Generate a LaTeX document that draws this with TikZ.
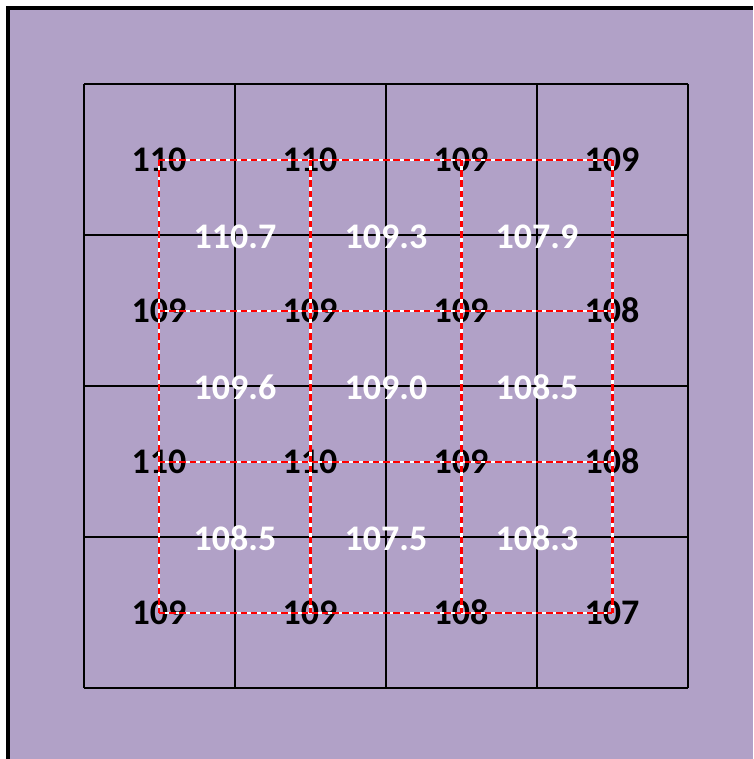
\documentclass[tikz,border=0pt]{standalone}
\usepackage{fontspec}
\setmainfont{Carlito}
\usetikzlibrary{positioning}
\definecolor{bgpurple}{RGB}{177,161,199}

\begin{document}
\begin{tikzpicture}[
    x=0.02cm, y=-0.02cm,
    cell/.style={font=\bfseries\fontsize{20.5}{24}\selectfont, text=black, inner sep=0pt, text height=13pt, text depth=0pt},
    avg/.style={font=\bfseries\fontsize{20.5}{24}\selectfont, text=white, inner sep=0pt, text height=13pt, text depth=0pt},
    gridline/.style={draw=black, line width=1.3pt},
    link/.style={draw=red, line width=1.7pt, dash pattern=on 3.6pt off 2.2pt, preaction={draw=white, solid, line width=1.7pt}}
]
\useasboundingbox (0,0) rectangle (753,759);
\fill[bgpurple] (8,8) rectangle (753,759);
\draw[line width=2pt] (8,759) -- (8,8) -- (753,8);

% 4x4 grid
\foreach \k in {84,235,386,537,688} {
  \draw[gridline] (\k,84) -- (\k,688);
  \draw[gridline] (84,\k) -- (688,\k);
}

% cell values
\node[cell] (c11) at (159,160) {110};
\node[cell] (c12) at (310,160) {110};
\node[cell] (c13) at (461,160) {109};
\node[cell] (c14) at (612,160) {109};
\node[cell] (c21) at (159,311) {109};
\node[cell] (c22) at (310,311) {109};
\node[cell] (c23) at (461,311) {109};
\node[cell] (c24) at (612,311) {108};
\node[cell] (c31) at (159,462) {110};
\node[cell] (c32) at (310,462) {110};
\node[cell] (c33) at (461,462) {109};
\node[cell] (c34) at (612,462) {108};
\node[cell] (c41) at (159,613) {109};
\node[cell] (c42) at (310,613) {109};
\node[cell] (c43) at (461,613) {108};
\node[cell] (c44) at (612,613) {107};

% averaged values at the inner corners
\node[avg] (a11) at (235,237) {110.7};
\node[avg] (a12) at (386,237) {109.3};
\node[avg] (a13) at (537,237) {107.9};
\node[avg] (a21) at (235,388) {109.6};
\node[avg] (a22) at (386,388) {109.0};
\node[avg] (a23) at (537,388) {108.5};
\node[avg] (a31) at (235,539) {108.5};
\node[avg] (a32) at (386,539) {107.5};
\node[avg] (a33) at (537,539) {108.3};

% dashed links between cell centres
\draw[link] (c11.center) -- (c12.center) -- (c13.center) -- (c14.center);
\draw[link] (c21.center) -- (c22.center) -- (c23.center) -- (c24.center);
\draw[link] (c31.center) -- (c32.center) -- (c33.center) -- (c34.center);
\draw[link] (c41.center) -- (c42.center) -- (c43.center) -- (c44.center);
\draw[link] (c11.center) -- (c21.center) -- (c31.center) -- (c41.center);
\draw[link] (c12.center) -- (c22.center) -- (c32.center) -- (c42.center);
\draw[link] (c13.center) -- (c23.center) -- (c33.center) -- (c43.center);
\draw[link] (c14.center) -- (c24.center) -- (c34.center) -- (c44.center);

\end{tikzpicture}
\end{document}
